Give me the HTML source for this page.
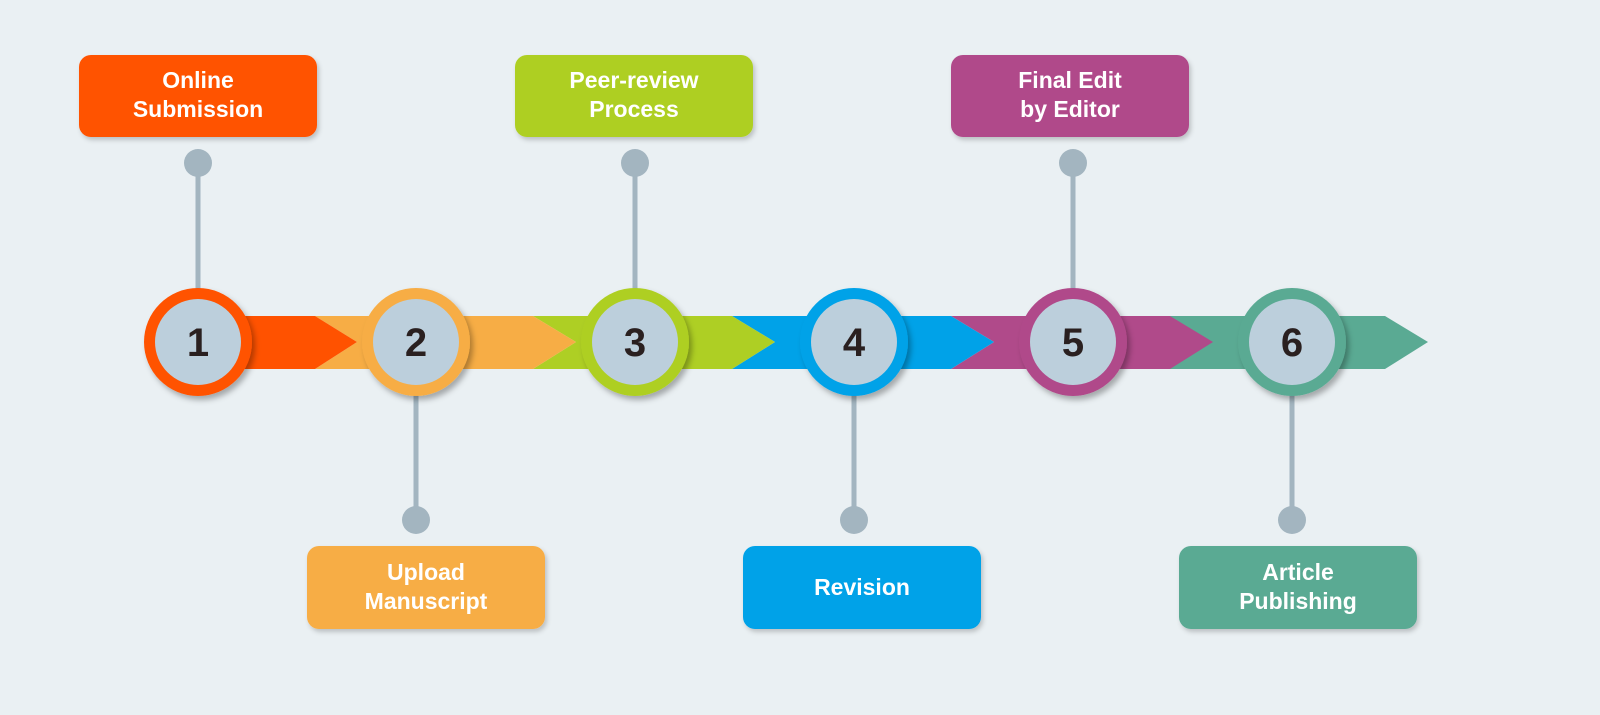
<!DOCTYPE html>
<html><head><style>
body{margin:0;background:#eaf0f3;}
svg{display:block}
text{font-family:"Liberation Sans",sans-serif;font-weight:bold;}
</style></head><body>
<svg width="1600" height="715" viewBox="0 0 1600 715">
<defs>
<filter id="sh" x="-30%" y="-30%" width="160%" height="160%"><feDropShadow dx="3" dy="4" stdDeviation="3" flood-color="#000" flood-opacity="0.3"/></filter>
<filter id="bs" x="-10%" y="-20%" width="120%" height="140%"><feDropShadow dx="2" dy="3" stdDeviation="2.5" flood-color="#000" flood-opacity="0.2"/></filter>
</defs>
<rect width="1600" height="715" fill="#eaf0f3"/>
<polygon points="1170,316 1385,316 1428,342 1385,369 1170,369" fill="#5aaa93"/>
<polygon points="951,316 1170,316 1213,342 1170,369 951,369 994,342" fill="#b04a8a"/>
<polygon points="732,316 951,316 994,342 951,369 732,369 775,342" fill="#00a2e8"/>
<polygon points="533,316 732,316 775,342 732,369 533,369 576,342" fill="#aecf24"/>
<polygon points="315,316 533,316 576,342 533,369 315,369 357,342" fill="#f7ad45"/>
<polygon points="200,316 315,316 357,342 315,369 200,369" fill="#ff5200"/>
<g fill="#a3b5c0" stroke="#a3b5c0" stroke-width="5">
<line x1="198" y1="163" x2="198" y2="300"/><circle cx="198" cy="163" r="14" stroke="none"/>
<line x1="635" y1="163" x2="635" y2="300"/><circle cx="635" cy="163" r="14" stroke="none"/>
<line x1="1073" y1="163" x2="1073" y2="300"/><circle cx="1073" cy="163" r="14" stroke="none"/>
<line x1="416" y1="390" x2="416" y2="520"/><circle cx="416" cy="520" r="14" stroke="none"/>
<line x1="854" y1="390" x2="854" y2="520"/><circle cx="854" cy="520" r="14" stroke="none"/>
<line x1="1292" y1="390" x2="1292" y2="520"/><circle cx="1292" cy="520" r="14" stroke="none"/>
</g>
<g font-size="40" fill="#2a2020" text-anchor="middle">
<circle cx="198" cy="342" r="54" fill="#ff5200" filter="url(#sh)"/><circle cx="198" cy="342" r="43" fill="#bccfdc"/><text x="198" y="356">1</text>
<circle cx="416" cy="342" r="54" fill="#f7ad45" filter="url(#sh)"/><circle cx="416" cy="342" r="43" fill="#bccfdc"/><text x="416" y="356">2</text>
<circle cx="635" cy="342" r="54" fill="#aecf24" filter="url(#sh)"/><circle cx="635" cy="342" r="43" fill="#bccfdc"/><text x="635" y="356">3</text>
<circle cx="854" cy="342" r="54" fill="#00a2e8" filter="url(#sh)"/><circle cx="854" cy="342" r="43" fill="#bccfdc"/><text x="854" y="356">4</text>
<circle cx="1073" cy="342" r="54" fill="#b04a8a" filter="url(#sh)"/><circle cx="1073" cy="342" r="43" fill="#bccfdc"/><text x="1073" y="356">5</text>
<circle cx="1292" cy="342" r="54" fill="#5aaa93" filter="url(#sh)"/><circle cx="1292" cy="342" r="43" fill="#bccfdc"/><text x="1292" y="356">6</text>
</g>
<g font-size="23" fill="#fff" text-anchor="middle">
<rect x="79" y="55" width="238" height="82" rx="12" fill="#ff5200" filter="url(#bs)"/>
<text x="198" y="88">Online</text><text x="198" y="117">Submission</text>
<rect x="515" y="55" width="238" height="82" rx="12" fill="#aecf24" filter="url(#bs)"/>
<text x="634" y="88">Peer-review</text><text x="634" y="117">Process</text>
<rect x="951" y="55" width="238" height="82" rx="12" fill="#b04a8a" filter="url(#bs)"/>
<text x="1070" y="88">Final Edit</text><text x="1070" y="117">by Editor</text>
<rect x="307" y="546" width="238" height="83" rx="12" fill="#f7ad45" filter="url(#bs)"/>
<text x="426" y="580">Upload</text><text x="426" y="609">Manuscript</text>
<rect x="743" y="546" width="238" height="83" rx="12" fill="#00a2e8" filter="url(#bs)"/>
<text x="862" y="595">Revision</text>
<rect x="1179" y="546" width="238" height="83" rx="12" fill="#5aaa93" filter="url(#bs)"/>
<text x="1298" y="580">Article</text><text x="1298" y="609">Publishing</text>
</g>
</svg>
</body></html>
